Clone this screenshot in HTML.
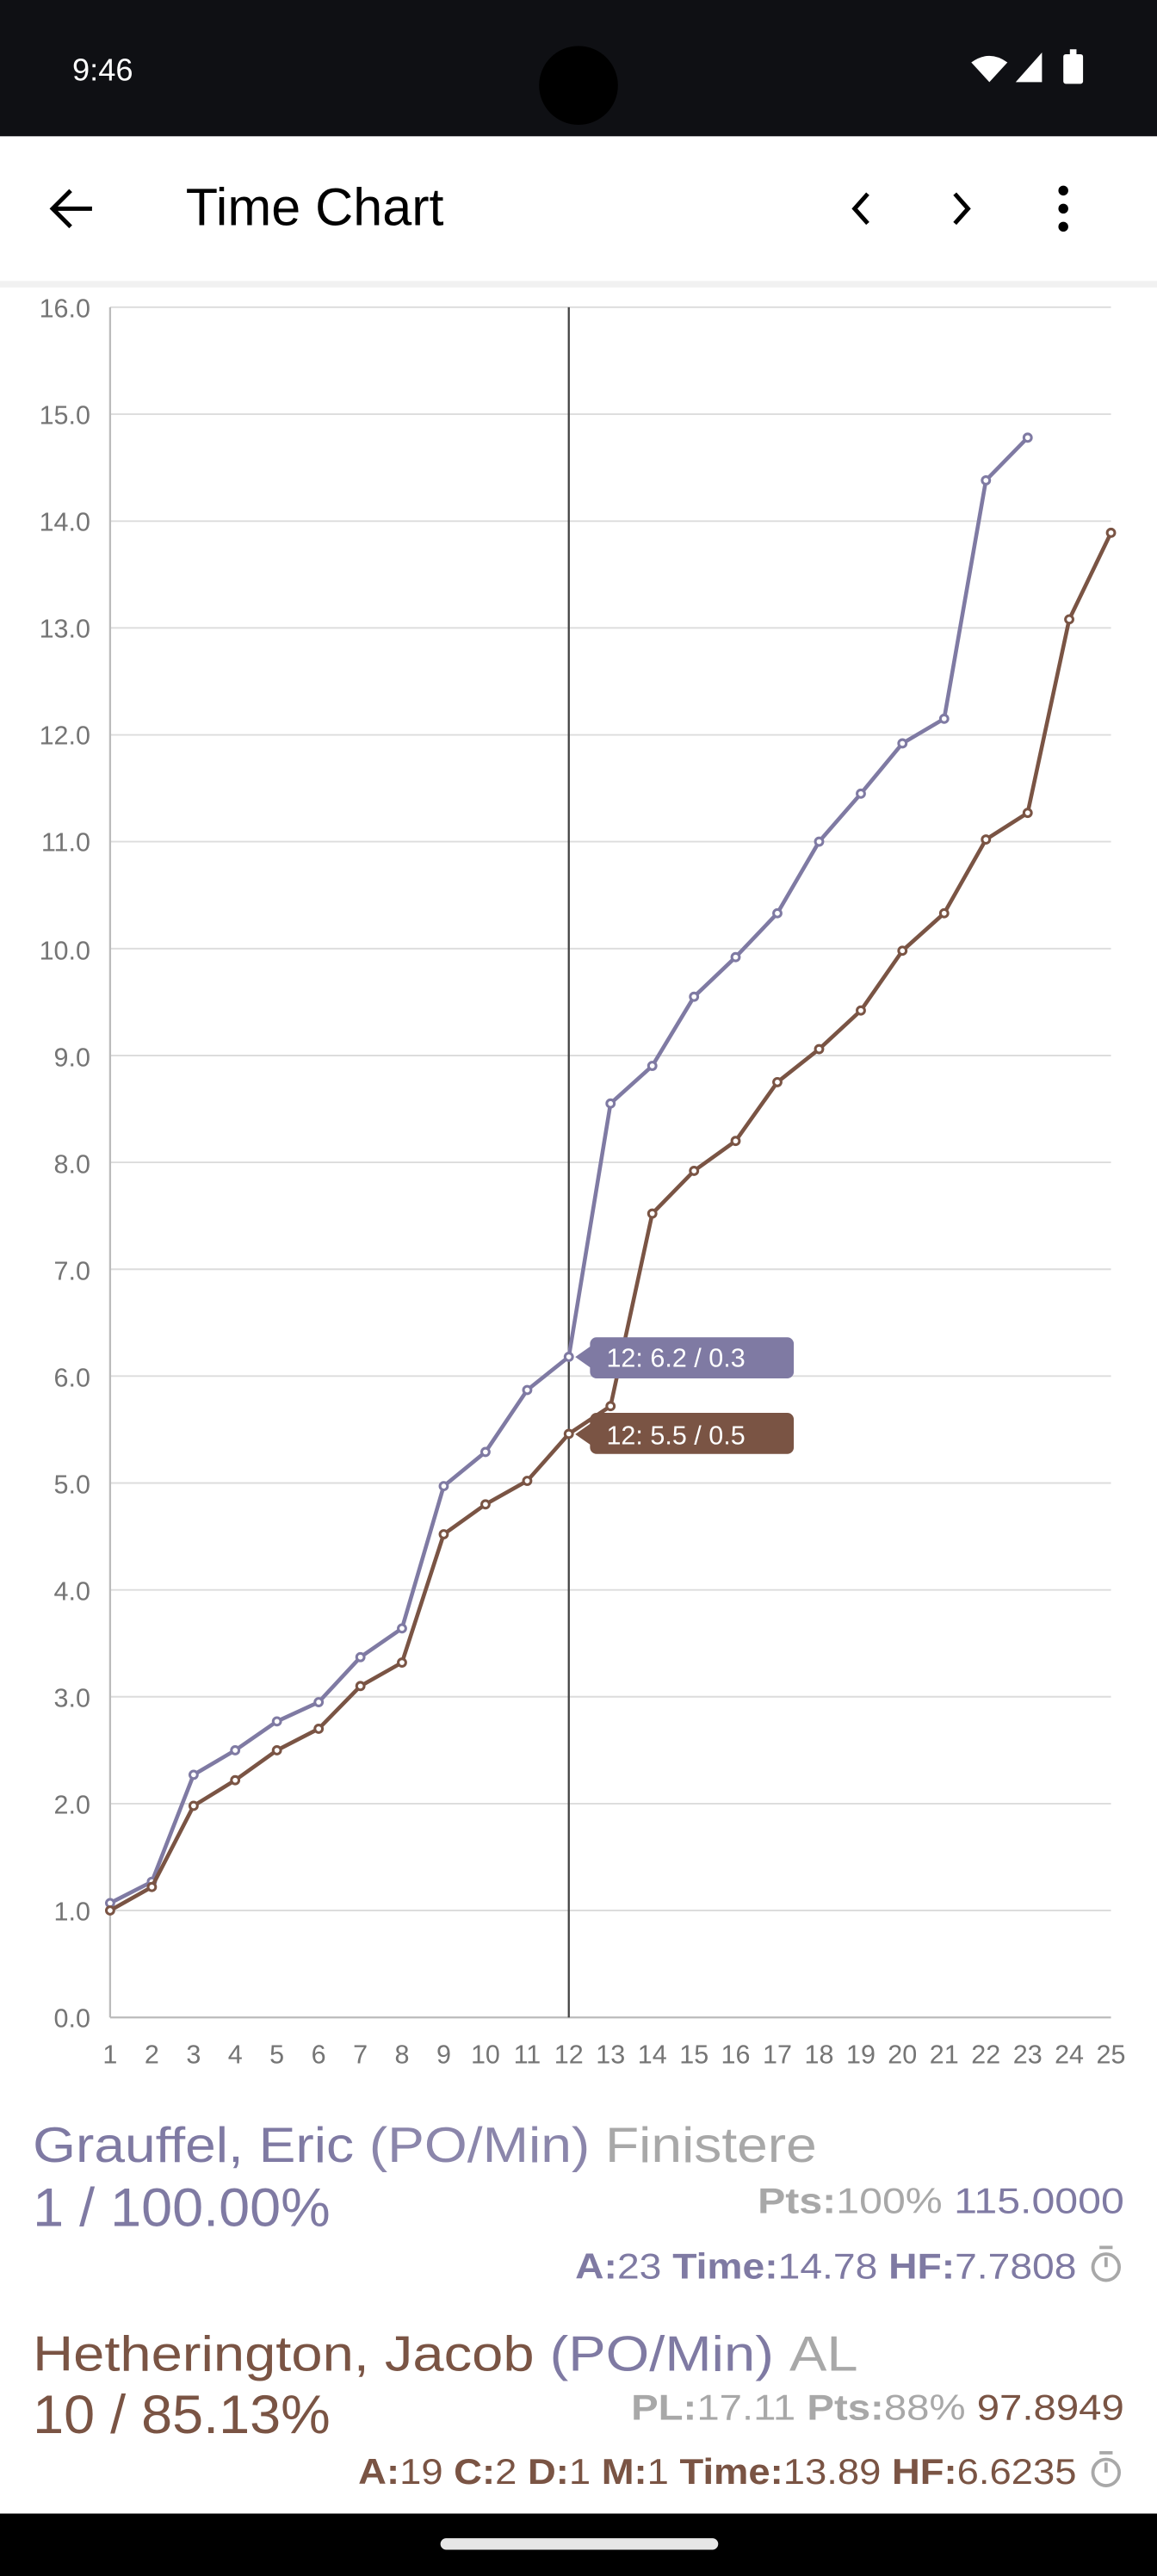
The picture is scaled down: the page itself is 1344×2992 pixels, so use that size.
<!DOCTYPE html>
<html><head><meta charset="utf-8"><style>
html,body{margin:0;padding:0;background:#fff;}
svg{display:block;}
text{font-family:"Liberation Sans",sans-serif;}
</style></head><body>
<svg width="1344" height="2992" viewBox="0 0 704 1568" preserveAspectRatio="none" xmlns="http://www.w3.org/2000/svg">
<rect x="0" y="0" width="704" height="1568" fill="#fff"/>
<!-- status bar -->
<rect x="0" y="0" width="704" height="83" fill="#0f1014"/>
<text x="44" y="49" font-size="19" fill="#fff">9:46</text>
<ellipse cx="352" cy="52" rx="24" ry="24" fill="#000"/>
<path d="M591 38 Q602 30 613 38 L602 50 Z" fill="#fff"/>
<path d="M618 50 L634 32 L634 50 Z" fill="#fff"/>
<rect x="647" y="33" width="12" height="18" rx="1.5" fill="#fff"/><rect x="651" y="30" width="4" height="4" fill="#fff"/>
<!-- app bar -->
<rect x="0" y="165" width="704" height="10" fill="#e8e8e8" opacity="0.6"/>
<rect x="0" y="83" width="704" height="88" fill="#fff"/>
<path d="M56 127 H33 M43 116 L32 127 L43 138" stroke="#000" stroke-width="2.6" fill="none"/>
<text x="113" y="137" font-size="32" fill="#000">Time Chart</text>
<path d="M528 118 L520 127 L528 136" stroke="#000" stroke-width="2.6" fill="none"/>
<path d="M581 118 L589 127 L581 136" stroke="#000" stroke-width="2.6" fill="none"/>
<circle cx="647" cy="116" r="3" fill="#000"/><circle cx="647" cy="127" r="3" fill="#000"/><circle cx="647" cy="138" r="3" fill="#000"/>
<!-- grid -->
<g stroke="#dcdcdc" stroke-width="1">
<line x1="67" x2="676" y1="1162.9" y2="1162.9"/><line x1="67" x2="676" y1="1097.9" y2="1097.9"/><line x1="67" x2="676" y1="1032.8" y2="1032.8"/><line x1="67" x2="676" y1="967.8" y2="967.8"/><line x1="67" x2="676" y1="902.7" y2="902.7"/><line x1="67" x2="676" y1="837.6" y2="837.6"/><line x1="67" x2="676" y1="772.6" y2="772.6"/><line x1="67" x2="676" y1="707.5" y2="707.5"/><line x1="67" x2="676" y1="642.5" y2="642.5"/><line x1="67" x2="676" y1="577.4" y2="577.4"/><line x1="67" x2="676" y1="512.3" y2="512.3"/><line x1="67" x2="676" y1="447.3" y2="447.3"/><line x1="67" x2="676" y1="382.2" y2="382.2"/><line x1="67" x2="676" y1="317.2" y2="317.2"/><line x1="67" x2="676" y1="252.1" y2="252.1"/><line x1="67" x2="676" y1="187" y2="187"/>
</g>
<g stroke="#bbb" stroke-width="1.2">
<line x1="67" x2="67" y1="187" y2="1228"/><line x1="67" x2="676" y1="1228" y2="1228"/>
</g>
<g font-size="16" fill="#757575" text-anchor="end">
<text x="55" y="1234">0.0</text><text x="55" y="1169">1.0</text><text x="55" y="1104">2.0</text><text x="55" y="1039">3.0</text><text x="55" y="974">4.0</text><text x="55" y="909">5.0</text><text x="55" y="844">6.0</text><text x="55" y="779">7.0</text><text x="55" y="714">8.0</text><text x="55" y="649">9.0</text><text x="55" y="584">10.0</text><text x="55" y="518">11.0</text><text x="55" y="453">12.0</text><text x="55" y="388">13.0</text><text x="55" y="323">14.0</text><text x="55" y="258">15.0</text><text x="55" y="193">16.0</text>
</g>
<g font-size="16" fill="#757575" text-anchor="middle">
<text x="67" y="1256">1</text><text x="92.4" y="1256">2</text><text x="117.8" y="1256">3</text><text x="143.1" y="1256">4</text><text x="168.5" y="1256">5</text><text x="193.9" y="1256">6</text><text x="219.3" y="1256">7</text><text x="244.6" y="1256">8</text><text x="270" y="1256">9</text><text x="295.4" y="1256">10</text><text x="320.8" y="1256">11</text><text x="346.1" y="1256">12</text><text x="371.5" y="1256">13</text><text x="396.9" y="1256">14</text><text x="422.3" y="1256">15</text><text x="447.6" y="1256">16</text><text x="473" y="1256">17</text><text x="498.4" y="1256">18</text><text x="523.8" y="1256">19</text><text x="549.1" y="1256">20</text><text x="574.5" y="1256">21</text><text x="599.9" y="1256">22</text><text x="625.3" y="1256">23</text><text x="650.6" y="1256">24</text><text x="676" y="1256">25</text>
</g>
<line x1="346.1" x2="346.1" y1="187" y2="1228" stroke="#444" stroke-width="1.2"/>
<!-- purple -->
<polyline fill="none" stroke="#7f7aa3" stroke-width="2.4" stroke-linejoin="round" points="67,1158.4 92.4,1145.4 117.8,1080.3 143.1,1065.4 168.5,1047.8 193.9,1036.1 219.3,1008.7 244.6,991.2 270,904.6 295.4,883.8 320.8,846.1 346.1,825.9 371.5,671.7 396.9,648.8 422.3,606.7 447.6,582.6 473,555.9 498.4,512.3 523.8,483.1 549.1,452.5 574.5,437.5 599.9,292.4 625.3,266.4"/>
<g fill="#fff" stroke="#7f7aa3" stroke-width="1.6">
<circle cx="67" cy="1158.4" r="2.3"/><circle cx="92.4" cy="1145.4" r="2.3"/><circle cx="117.8" cy="1080.3" r="2.3"/><circle cx="143.1" cy="1065.4" r="2.3"/><circle cx="168.5" cy="1047.8" r="2.3"/><circle cx="193.9" cy="1036.1" r="2.3"/><circle cx="219.3" cy="1008.7" r="2.3"/><circle cx="244.6" cy="991.2" r="2.3"/><circle cx="270" cy="904.6" r="2.3"/><circle cx="295.4" cy="883.8" r="2.3"/><circle cx="320.8" cy="846.1" r="2.3"/><circle cx="346.1" cy="825.9" r="2.3"/><circle cx="371.5" cy="671.7" r="2.3"/><circle cx="396.9" cy="648.8" r="2.3"/><circle cx="422.3" cy="606.7" r="2.3"/><circle cx="447.6" cy="582.6" r="2.3"/><circle cx="473" cy="555.9" r="2.3"/><circle cx="498.4" cy="512.3" r="2.3"/><circle cx="523.8" cy="483.1" r="2.3"/><circle cx="549.1" cy="452.5" r="2.3"/><circle cx="574.5" cy="437.5" r="2.3"/><circle cx="599.9" cy="292.4" r="2.3"/><circle cx="625.3" cy="266.4" r="2.3"/>
</g>
<!-- brown -->
<polyline fill="none" stroke="#7a5444" stroke-width="2.4" stroke-linejoin="round" points="67,1162.9 92.4,1148.6 117.8,1099.2 143.1,1083.6 168.5,1065.4 193.9,1052.3 219.3,1026.3 244.6,1012 270,933.9 295.4,915.7 320.8,901.4 346.1,872.8 371.5,855.9 396.9,738.7 422.3,712.7 447.6,694.5 473,658.7 498.4,638.6 523.8,615.1 549.1,578.7 574.5,555.9 599.9,511 625.3,494.8 650.6,377 676,324.3"/>
<g fill="#fff" stroke="#7a5444" stroke-width="1.6">
<circle cx="67" cy="1162.9" r="2.3"/><circle cx="92.4" cy="1148.6" r="2.3"/><circle cx="117.8" cy="1099.2" r="2.3"/><circle cx="143.1" cy="1083.6" r="2.3"/><circle cx="168.5" cy="1065.4" r="2.3"/><circle cx="193.9" cy="1052.3" r="2.3"/><circle cx="219.3" cy="1026.3" r="2.3"/><circle cx="244.6" cy="1012" r="2.3"/><circle cx="270" cy="933.9" r="2.3"/><circle cx="295.4" cy="915.7" r="2.3"/><circle cx="320.8" cy="901.4" r="2.3"/><circle cx="346.1" cy="872.8" r="2.3"/><circle cx="371.5" cy="855.9" r="2.3"/><circle cx="396.9" cy="738.7" r="2.3"/><circle cx="422.3" cy="712.7" r="2.3"/><circle cx="447.6" cy="694.5" r="2.3"/><circle cx="473" cy="658.7" r="2.3"/><circle cx="498.4" cy="638.6" r="2.3"/><circle cx="523.8" cy="615.1" r="2.3"/><circle cx="549.1" cy="578.7" r="2.3"/><circle cx="574.5" cy="555.9" r="2.3"/><circle cx="599.9" cy="511" r="2.3"/><circle cx="625.3" cy="494.8" r="2.3"/><circle cx="650.6" cy="377" r="2.3"/><circle cx="676" cy="324.3" r="2.3"/>
</g>
<!-- tooltips -->
<path d="M350 826 L360 819 L360 833 Z" fill="#7f7aa3"/>
<rect x="359" y="814" width="124" height="25" rx="4" fill="#7f7aa3"/>
<text x="369" y="832" font-size="16" fill="#fff">12: 6.2 / 0.3</text>
<path d="M350 873 L360 866 L360 880 Z" fill="#7a5444"/>
<rect x="359" y="860" width="124" height="25" rx="4" fill="#7a5444"/>
<text x="369" y="879" font-size="16" fill="#fff">12: 5.5 / 0.5</text>
<!-- entries -->
<text x="20" y="1316" font-size="30" textLength="477" lengthAdjust="spacingAndGlyphs"><tspan fill="#7f7aa3">Grauffel, Eric </tspan><tspan fill="#7f7aa3" opacity="0.9">(PO/Min) </tspan><tspan fill="#a8a8a8">Finistere</tspan></text>
<text x="20" y="1355" font-size="33" fill="#7f7aa3" textLength="181" lengthAdjust="spacingAndGlyphs">1 / 100.00%</text>
<text x="684" y="1347" font-size="22" text-anchor="end" textLength="223" lengthAdjust="spacingAndGlyphs"><tspan fill="#a8a8a8" font-weight="bold">Pts:</tspan><tspan fill="#a8a8a8">100%  </tspan><tspan fill="#7f7aa3">115.0000</tspan></text>
<text x="655" y="1387" font-size="22" text-anchor="end" fill="#7f7aa3" textLength="305" lengthAdjust="spacingAndGlyphs"><tspan font-weight="bold">A:</tspan>23 <tspan font-weight="bold">Time:</tspan>14.78 <tspan font-weight="bold">HF:</tspan>7.7808</text>
<g stroke="#a8a8a8" stroke-width="2" fill="none"><circle cx="673" cy="1380" r="8"/><line x1="673" y1="1374" x2="673" y2="1380"/><line x1="669" y1="1368" x2="677" y2="1368"/></g>
<text x="20" y="1443" font-size="30" textLength="502" lengthAdjust="spacingAndGlyphs"><tspan fill="#7a5444">Hetherington, Jacob </tspan><tspan fill="#7f7aa3">(PO/Min) </tspan><tspan fill="#a8a8a8">AL</tspan></text>
<text x="20" y="1481" font-size="33" fill="#7a5444" textLength="181" lengthAdjust="spacingAndGlyphs">10 / 85.13%</text>
<text x="684" y="1473" font-size="22" text-anchor="end" textLength="300" lengthAdjust="spacingAndGlyphs"><tspan fill="#a8a8a8" font-weight="bold">PL:</tspan><tspan fill="#a8a8a8">17.11 </tspan><tspan fill="#a8a8a8" font-weight="bold">Pts:</tspan><tspan fill="#a8a8a8">88%  </tspan><tspan fill="#7a5444">97.8949</tspan></text>
<text x="655" y="1512" font-size="22" text-anchor="end" fill="#7a5444" textLength="437" lengthAdjust="spacingAndGlyphs"><tspan font-weight="bold">A:</tspan>19 <tspan font-weight="bold">C:</tspan>2 <tspan font-weight="bold">D:</tspan>1 <tspan font-weight="bold">M:</tspan>1 <tspan font-weight="bold">Time:</tspan>13.89 <tspan font-weight="bold">HF:</tspan>6.6235</text>
<g stroke="#a8a8a8" stroke-width="2" fill="none"><circle cx="673" cy="1505" r="8"/><line x1="673" y1="1499" x2="673" y2="1505"/><line x1="669" y1="1493" x2="677" y2="1493"/></g>
<!-- nav bar -->
<rect x="0" y="1530" width="704" height="38" fill="#000"/>
<rect x="268" y="1545" width="169" height="7" rx="3.5" fill="#e6e6e6"/>
</svg>
</body></html>
